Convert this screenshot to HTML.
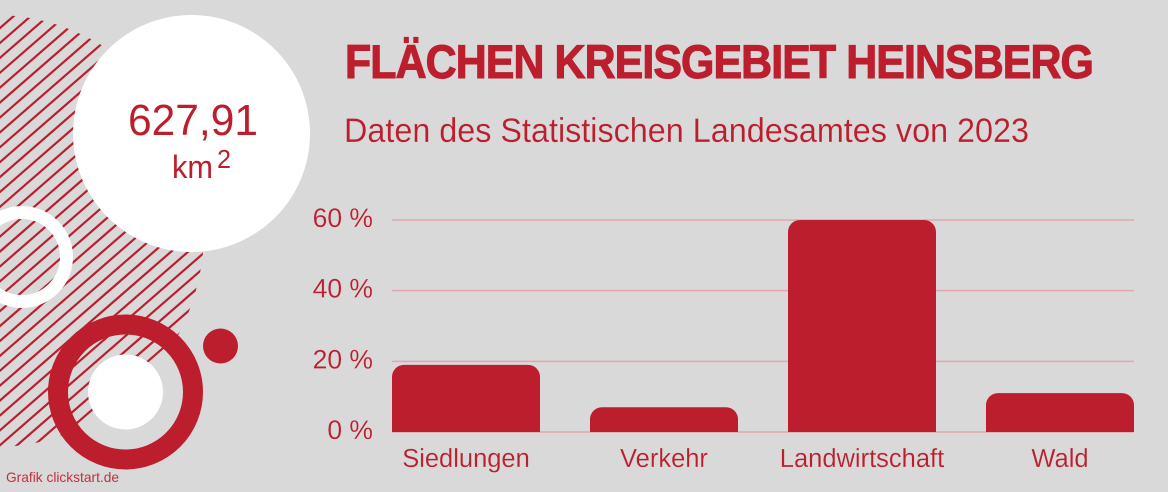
<!DOCTYPE html>
<html lang="de">
<head>
<meta charset="utf-8">
<title>Flächen Kreisgebiet Heinsberg</title>
<style>
html,body{margin:0;padding:0;background:#d9d9d9;}
svg{display:block;}
text{font-family:"Liberation Sans",sans-serif;fill:#bd1e2d;}
.thin{stroke:#d9d9d9;stroke-width:0.15px;}
</style>
</head>
<body>
<svg id="chart" width="1168" height="492" viewBox="0 0 1168 492" xmlns="http://www.w3.org/2000/svg">
  <defs>
    <clipPath id="hatch-clip"><ellipse cx="-5" cy="231" rx="209" ry="216"/></clipPath>
  </defs>
  <rect width="1168" height="492" fill="#d9d9d9"/>
  <g id="hatch" clip-path="url(#hatch-clip)" stroke="#bd1e2d" stroke-width="2.2"></g>
  <circle cx="191.500" cy="133.500" r="118.500" fill="#ffffff"/>
  <circle cx="22" cy="257" r="44.500" fill="none" stroke="#ffffff" stroke-width="13"/>
  <circle cx="125.500" cy="392" r="67.500" fill="none" stroke="#bd1e2d" stroke-width="20"/>
  <circle cx="125.500" cy="392" r="37.500" fill="#ffffff"/>
  <circle cx="220.500" cy="346" r="17.500" fill="#bd1e2d"/>

  <text x="128" y="135" font-size="43.500" textLength="130" lengthAdjust="spacingAndGlyphs">627,91</text>
  <text x="172" y="178" font-size="32" textLength="41" lengthAdjust="spacingAndGlyphs">km</text>
  <text x="217" y="168" font-size="26" textLength="14" lengthAdjust="spacingAndGlyphs">2</text>

  <text x="345" y="78" font-size="47" font-weight="700" stroke="#bd1e2d" stroke-width="1.1" letter-spacing="-1" textLength="748" lengthAdjust="spacingAndGlyphs">FLÄCHEN KREISGEBIET HEINSBERG</text>
  <text class="thin" x="344" y="142" font-size="34" textLength="685" lengthAdjust="spacingAndGlyphs">Daten des Statistischen Landesamtes von 2023</text>

  <g id="grid"></g>
  <g id="bars"></g>
  <g id="yticks"></g>
  <g id="xticks"></g>

  <text x="6" y="482" font-size="14" fill-opacity="0.9" textLength="113" lengthAdjust="spacingAndGlyphs">Grafik clickstart.de</text>
</svg>
<script>
const categories = ["Siedlungen", "Verkehr", "Landwirtschaft", "Wald"];
const values = [19, 7, 60, 11];
const yTickValues = [0, 20, 40, 60];
const yTickLabels = ["0 %", "20 %", "40 %", "60 %"];

const NS = "http://www.w3.org/2000/svg";
const plotLeft = 392, plotRight = 1134, plotBottom = 432, plotTop = 220, yMax = 60;
const band = 198, barW = 148, radius = 12;
function yScale(v) { return plotBottom - (v / yMax) * (plotBottom - plotTop); }
function xBand(i) { return plotLeft + i * band; }
function make(tag, attrs) {
  const el = document.createElementNS(NS, tag);
  for (const k in attrs) el.setAttribute(k, attrs[k]);
  return el;
}

const hatch = document.getElementById("hatch");
for (let c = 28; c <= 500; c += 14.9) {
  const line = make("line", { x1: -10, y1: c + 8.7, x2: 300, y2: c - 261 });
  
  
  hatch.appendChild(line);
}

const grid = document.getElementById("grid");
const yticks = document.getElementById("yticks");
yTickValues.forEach(function (v, i) {
  const y = yScale(v);
  const line = make("line", { x1: plotLeft, x2: plotRight, y1: y, y2: y, stroke: "#e0a8ad", "stroke-width": 1.5 });
  
  
  grid.appendChild(line);
  const t = make("text", { x: 373, y: y + 7, "font-size": 26.5, "text-anchor": "end", "class": "thin" });
  
  
  t.textContent = yTickLabels[i];
  yticks.appendChild(t);
});

const bars = document.getElementById("bars");
const xticks = document.getElementById("xticks");
categories.forEach(function (name, i) {
  const x = xBand(i), y = yScale(values[i]);
  const d = "M" + x + " " + plotBottom + "V" + (y + radius) +
    "A" + radius + " " + radius + " 0 0 1 " + (x + radius) + " " + y +
    "H" + (x + barW - radius) +
    "A" + radius + " " + radius + " 0 0 1 " + (x + barW) + " " + (y + radius) +
    "V" + plotBottom + "Z";
  const bar = make("path", { d: d, fill: "#bd1e2d" });
  
  
  bars.appendChild(bar);
  const t = make("text", { x: x + barW / 2, y: 467, "font-size": 25.5, "text-anchor": "middle", "class": "thin" });
  
  
  t.textContent = name;
  xticks.appendChild(t);
});
</script>
</body>
</html>
